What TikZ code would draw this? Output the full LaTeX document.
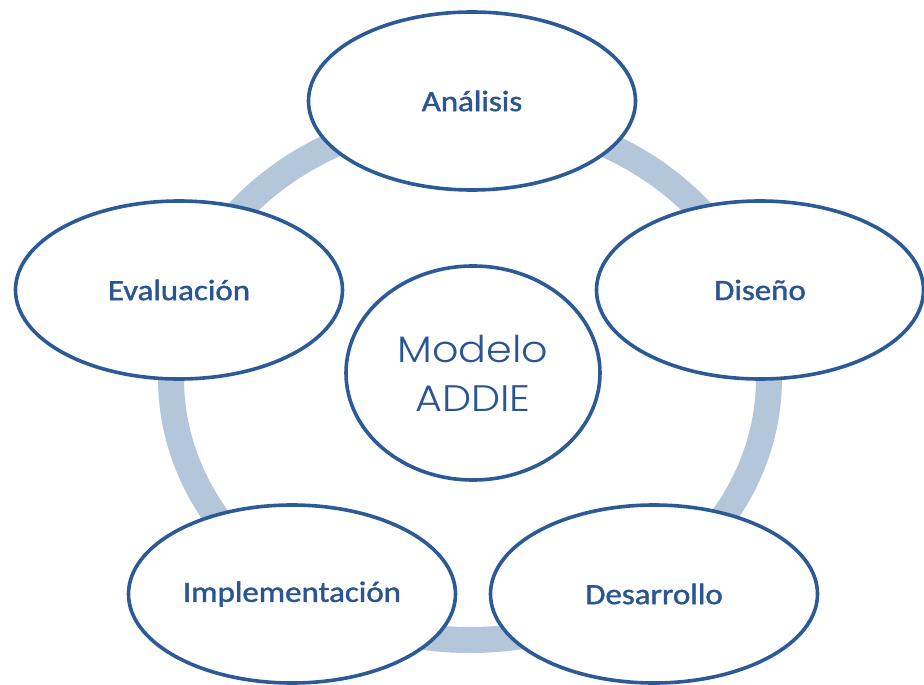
\documentclass[tikz,border=0pt]{standalone}
\usepackage{fontspec}
\setmainfont{Carlito}
\newfontfamily\labelfont{Carlito}[FakeBold=1.3]
\newfontfamily\gothicfont{Poppins}[UprightFont={* Light}]
\usetikzlibrary{shapes.geometric}
\definecolor{ringblue}{HTML}{B4C6DA}
\definecolor{edgeblue}{HTML}{2C5A97}
\definecolor{textblue}{HTML}{2A5592}
\tikzset{
  phase/.style={ellipse, draw=edgeblue, line width=3.6bp, fill=white,
    minimum width=327bp, minimum height=178bp, inner sep=0pt,
    text=textblue, font=\labelfont\fontsize{29.5}{34}\selectfont},
  hub/.style={ellipse, draw=edgeblue, line width=3.6bp, fill=white,
    minimum width=254bp, minimum height=214bp, inner sep=0pt,
    text=textblue, align=center, font=\gothicfont\fontsize{37}{53}\selectfont},
  cycle ring/.style={draw=ringblue, line width=26bp}
}
\newcommand{\wide}[1]{\scalebox{1.12}[1]{#1}}
\begin{document}
\begin{tikzpicture}[x=1bp,y=-1bp]
\useasboundingbox (0,0) rectangle (924,685);
\fill[white] (0,0) rectangle (924,685);
\draw[cycle ring] (470,378) ellipse [x radius=299, y radius=262];
\node[phase] (analisis) at (472,101) {\wide{Análisis}};
\node[phase] (diseno) at (760,290) {\wide{Diseño}};
\node[phase] (evaluacion) at (179,290) {\wide{Evaluación}};
\node[phase] (implementacion) at (292,594) {\wide{Implementación}};
\node[phase] (desarrollo) at (654,594) {\wide{Desarrollo}};
\node[hub] (addie) at (473,373) {\wide{Modelo}\\[-4bp]\wide{ADDIE}};
\end{tikzpicture}
\end{document}
